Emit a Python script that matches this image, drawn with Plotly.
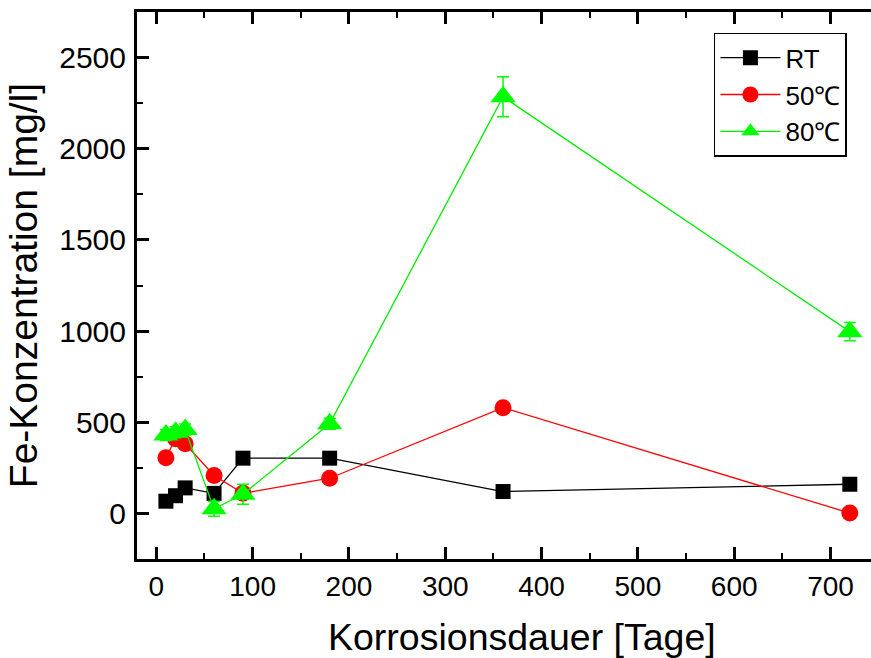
import plotly.graph_objects as go

days = [10, 20, 30, 60, 90, 180, 360, 720]
rt = [67, 97, 140, 110, 303, 303, 120, 160]
c50 = [305, 410, 382, 208, 110, 193, 580, 2]
c80 = [430, 445, 460, 25, 105, 492, 2285, 997]
c80_err = [30, 30, 30, 40, 55, 30, 110, 50]

fig = go.Figure()
fig.add_trace(go.Scatter(x=days, y=rt, name="RT", mode="lines+markers",
                         line=dict(color="black", width=1.3),
                         marker=dict(symbol="square", size=15, color="black")))
fig.add_trace(go.Scatter(x=days, y=c50, name="50℃", mode="lines+markers",
                         line=dict(color="#ff0000", width=1.3),
                         marker=dict(symbol="circle", size=17, color="#ff0000")))
fig.add_trace(go.Scatter(x=days, y=c80, name="80℃", mode="lines+markers",
                         line=dict(color="#00ee00", width=1.3),
                         marker=dict(symbol="triangle-up", size=22, color="#00ff00"),
                         error_y=dict(type="data", array=c80_err, visible=True,
                                      color="#00ff00", thickness=1.5, width=6)))

yticks = [0, 500, 1000, 1500, 2000, 2500]
yrange = [-250, 2750]

fig.update_layout(
    width=871, height=658,
    paper_bgcolor="white", plot_bgcolor="white",
    margin=dict(l=137, r=0, t=12, b=99),
    font=dict(family="Liberation Sans, Arial, sans-serif", color="black"),
    xaxis=dict(range=[-20, 742], tickvals=[0, 100, 200, 300, 400, 500, 600, 700],
               tickfont=dict(size=28),
               showline=True, linecolor="black", linewidth=3, mirror="ticks",
               ticks="inside", ticklen=12, tickwidth=2.5, tickcolor="black",
               minor=dict(dtick=50, ticks="inside", ticklen=6, tickwidth=2, tickcolor="black"),
               showgrid=False, zeroline=False, automargin=False),
    yaxis=dict(range=yrange, tickvals=yticks,
               tickfont=dict(size=30), ticklabelstandoff=2,
               showline=True, linecolor="black", linewidth=3, mirror=False,
               ticks="inside", ticklen=12, tickwidth=2.5, tickcolor="black",
               minor=dict(dtick=250, ticks="inside", ticklen=6, tickwidth=2, tickcolor="black"),
               title=dict(text="Fe-Konzentration [mg/l]", font=dict(size=39), standoff=10),
               showgrid=False, zeroline=False, automargin=False),
    yaxis2=dict(range=yrange, tickvals=yticks, overlaying="y", side="right",
                showline=False, showticklabels=False, ticks="inside", ticklen=5,
                tickwidth=2.5, tickcolor="black", showgrid=False, zeroline=False,
                automargin=False),
    legend=dict(x=0.786, y=0.962, xanchor="left", yanchor="top",
                bordercolor="black", borderwidth=1.5, bgcolor="white",
                font=dict(size=26), itemwidth=60, tracegroupgap=0),
    annotations=[dict(text="Korrosionsdauer [Tage]", xref="paper", yref="paper",
                      x=0.525, y=-0.143, xanchor="center", yanchor="middle",
                      showarrow=False, font=dict(size=37.5))],
    showlegend=True,
)

fig.write_html("out.html", config={"displayModeBar": False},
               post_script="document.body.style.margin='0';document.documentElement.style.overflow='hidden';")
